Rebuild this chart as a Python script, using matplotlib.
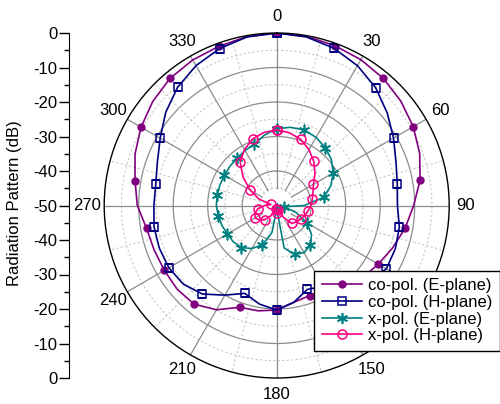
import numpy as np
import matplotlib
matplotlib.use("Agg")
import matplotlib.pyplot as plt
from matplotlib.ticker import FixedLocator

plt.rcParams['font.family'] = ['Liberation Sans', 'DejaVu Sans']

# angles in degrees (clockwise from top), one reading every 10 degrees
angles = list(range(0, 360, 10))

co_e = [0, -0.2, -0.7, -1.2, -1.9, -3.0, -4.3, -5.9, -7.8, -10.3,
        -12.2, -14.2, -16.0, -17.5, -19.5, -21.5, -22.2, -21.5, -19.7, -19.0,
        -18.6, -15.1, -12.7, -12.3, -12.4, -12.2, -11.7, -9.6, -8.3, -6.3,
        -4.6, -3.1, -1.9, -1.3, -0.9, -0.3]
co_h = [0, -0.4, -1.5, -3.2, -5.4, -8.2, -10.9, -13.2, -14.5, -15.0,
        -13.9, -13.4, -13.3, -15.5, -19.0, -23.0, -24.1, -21.5, -19.7, -21.0,
        -22.9, -20.0, -16.5, -14.6, -13.9, -13.8, -13.9, -14.4, -14.4, -13.2,
        -11.0, -8.0, -5.3, -3.2, -1.6, -0.4]
x_e = [-27.7, -27.0, -26.7, -27.2, -28.1, -29.3, -31.1, -33.3, -36.1, -42.0,
       -47.8, -44.0, -39.8, -36.8, -34.9, -34.2, -34.9, -37.5, -49.0, -42.0,
       -37.9, -35.6, -34.1, -33.6, -33.5, -33.1, -32.8, -32.5, -32.5, -32.5,
       -32.5, -32.3, -32.1, -31.6, -31.1, -29.3]
x_h = [-28.1, -28.6, -29.6, -31.3, -33.3, -35.5, -37.7, -38.8, -39.5, -40.1,
       -40.8, -41.4, -42.0, -42.6, -43.2, -46.0, -48.5, -48.0, -47.7, -48.5,
       -49.0, -46.5, -44.6, -43.5, -42.8, -43.3, -44.4, -46.5, -48.3, -44.5,
       -41.2, -37.3, -33.5, -31.3, -29.5, -28.5]

labels = ["co-pol. (E-plane)", "co-pol. (H-plane)", "x-pol. (E-plane)", "x-pol. (H-plane)"]
theta_labels = [str(a) for a in range(0, 360, 30)]
r_min, r_max = -50, 0

W, H = 500, 404
cx, cy, R = 276.7, 205.5, 172.5
fig = plt.figure(figsize=(W / 100, H / 100), dpi=100)
box = [(cx - R) / W, (H - cy - R) / H, 2 * R / W, 2 * R / H]
ax = fig.add_axes(box, projection='polar')
ax.set_theta_zero_location('N')
ax.set_theta_direction(-1)
ax.set_ylim(r_min, r_max)
ax.set_yticks([])
ax.grid(False)

# grid: circles every 5 dB, spokes every 15 degrees
th = np.linspace(0, 2 * np.pi, 361)
for r in range(-45, 0, 5):
    if r % 10 == 0:
        ax.plot(th, np.full_like(th, r), color='#8c8c8c', lw=0.9, zorder=0.5)
    else:
        ax.plot(th, np.full_like(th, r), color='#c8c8c8', lw=0.8, ls=(0, (2, 2)), zorder=0.5)
for a in range(0, 360, 15):
    t = np.deg2rad(a)
    if a % 30 == 0:
        ax.plot([t, t], [-45, 0], color='#8c8c8c', lw=0.9, zorder=0.5)
    else:
        ax.plot([t, t], [-45, 0], color='#c8c8c8', lw=0.8, ls=(0, (2, 2)), zorder=0.5)

ax.set_xticks(np.deg2rad(range(0, 360, 30)))
ax.set_xticklabels(theta_labels, fontsize=12)
ax.xaxis.set_minor_locator(FixedLocator(np.deg2rad(range(15, 360, 30))))
ax.tick_params(axis='x', which='major', direction='in', length=6, width=1, pad=5)
ax.tick_params(axis='x', which='minor', direction='in', length=4, width=1)
ax.spines['polar'].set_color('black')
ax.spines['polar'].set_linewidth(1)


def closed(vals):
    return np.deg2rad(angles + [360]), vals + vals[:1]


t, r = closed(co_e)
ax.plot(t, r, color='#800080', lw=1.2, marker='o', ms=5, markevery=2, label=labels[0])
t, r = closed(co_h)
ax.plot(t, r, color='#000080', lw=1.2, marker='s', ms=5.5, mfc='none', mew=1.1,
        markevery=2, label=labels[1])
t, r = closed(x_e)
ax.plot(t, r, color='#008080', lw=1.2, marker=(6, 2, 0), ms=8, mew=1.2,
        markevery=2, label=labels[2])
t, r = closed(x_h)
ax.plot(t, r, color='#ff0080', lw=1.2, marker='o', ms=6.5, mfc='none', mew=1.1,
        markevery=2, label=labels[3])

# left-hand dB scale
lax = fig.add_axes([69 / W, box[1], 0.0001, box[3]])
lax.set_ylim(-50, 50)
ticks = list(range(-50, 51, 10))
lax.set_yticks(ticks)
lax.set_yticklabels([str(abs(v) - 50) for v in ticks], fontsize=12)
lax.yaxis.set_minor_locator(FixedLocator(list(range(-45, 50, 10))))
lax.tick_params(axis='y', which='major', direction='out', length=7, width=1, pad=1.5)
lax.tick_params(axis='y', which='minor', direction='out', length=3.5, width=1)
lax.set_xticks([])
for s in ['top', 'right', 'bottom']:
    lax.spines[s].set_visible(False)
lax.patch.set_visible(False)
fig.text(15 / W, 1 - 203 / H, "Radiation Pattern (dB)", rotation=90,
         ha='center', va='center', fontsize=12)

leg = fig.legend(loc='upper left', bbox_to_anchor=(314 / W, 1 - 270.7 / H),
                 fontsize=12, frameon=True, fancybox=False, edgecolor='black',
                 framealpha=1, borderpad=0.45, handlelength=2.4, handletextpad=0.4,
                 labelspacing=0.1, borderaxespad=0)
leg.get_frame().set_linewidth(1)

fig.savefig("out.png", dpi=100)
